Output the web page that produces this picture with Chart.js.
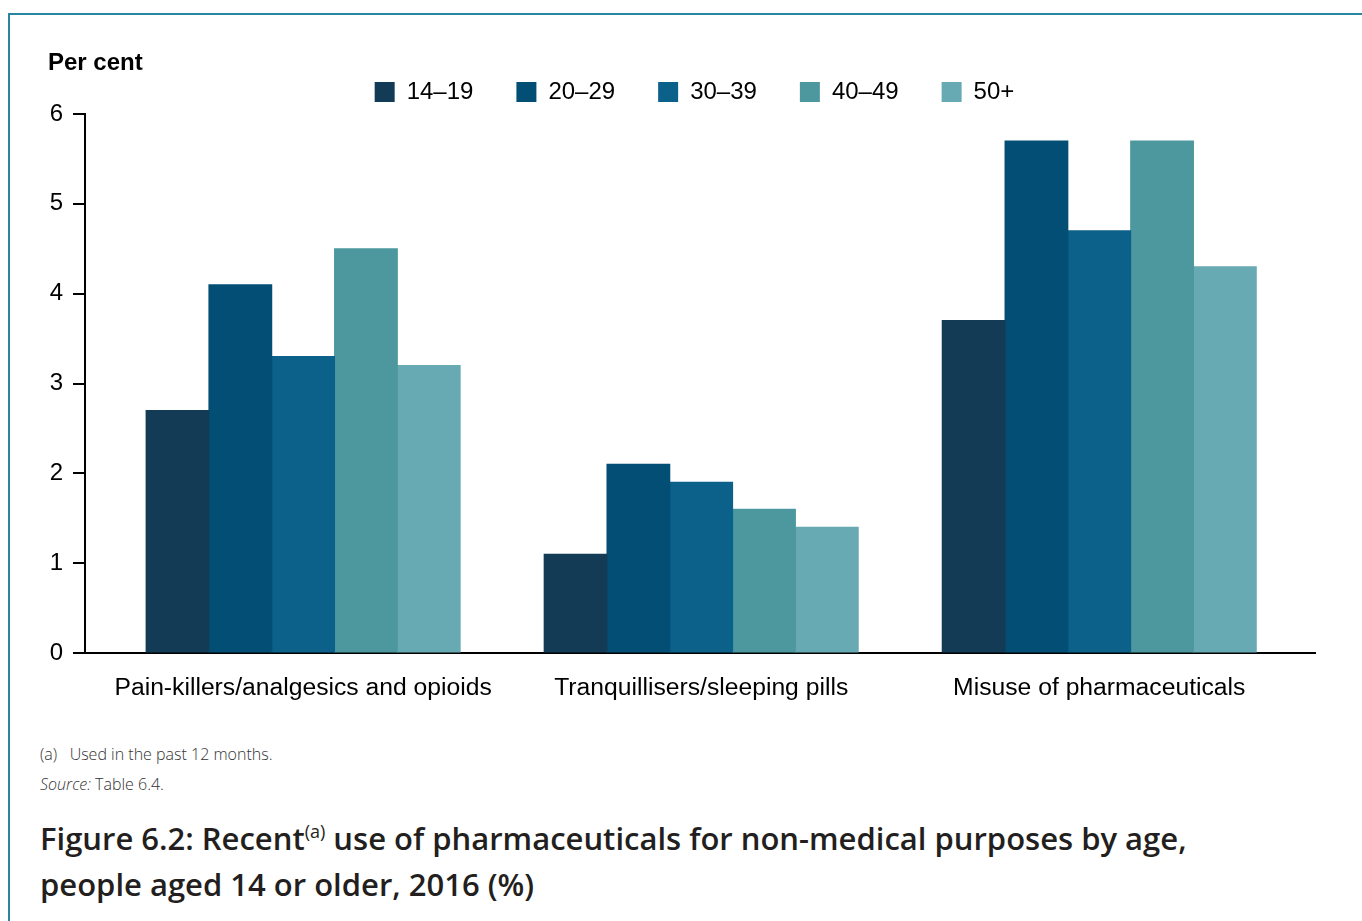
<!DOCTYPE html>
<html>
<head>
<meta charset="utf-8">
<script src="https://cdn.jsdelivr.net/npm/chart.js@4"></script>
<style>
  body { margin: 0; background: #fff; width: 1362px; height: 921px; overflow: hidden; position: relative; }
  #frame { position: absolute; left: 8px; top: 13px; width: 1400px; height: 1000px; border-top: 2px solid #2a86a0; border-left: 2px solid #2a86a0; }
  #wrap { position: absolute; left: 0; top: 0; width: 1362px; height: 720px; }
  #unit { position: absolute; left: 48px; top: 48px; font: bold 24px "Liberation Sans", Arial, sans-serif; color: #000; }
  .note { position: absolute; left: 40px; font: 300 16px "Open Sans", sans-serif; color: #333; }
  #title { position: absolute; left: 40px; top: 815px; font: 600 31px/46px "Open Sans", sans-serif; color: #231f20; }
  #title sup { font-size: 18px; vertical-align: 12px; line-height: 0; font-weight: 400; }
</style>
</head>
<body>
<div id="frame"></div>
<div id="wrap"><canvas id="myChart"></canvas></div>
<div id="unit">Per cent</div>
<div class="note" style="top:743px">(a)&nbsp;&nbsp; Used in the past 12 months.</div>
<div class="note" style="top:773px"><i>Source:</i> Table 6.4.</div>
<div id="title">Figure 6.2: Recent<sup>(a)</sup> use of pharmaceuticals for non-medical purposes by age,<br>people aged 14 or older, 2016 (%)</div>

<script>
const categories = ["Pain-killers/analgesics and opioids", "Tranquillisers/sleeping pills", "Misuse of pharmaceuticals"];
const ageGroups = ["14–19", "20–29", "30–39", "40–49", "50+"];
const age14to19 = [2.7, 1.1, 3.7];
const age20to29 = [4.1, 2.1, 5.7];
const age30to39 = [3.3, 1.9, 4.7];
const age40to49 = [4.5, 1.6, 5.7];
const age50plus = [3.2, 1.4, 4.3];
const yTicks = [0, 1, 2, 3, 4, 5, 6];

const seriesValues = [age14to19, age20to29, age30to39, age40to49, age50plus];
const barColors = ["#133b55", "#024e74", "#0b6189", "#4c989e", "#68aab4"];

const font = "'Liberation Sans', Arial, sans-serif";

const datasets = ageGroups.map((name, i) => ({
  label: name,
  data: seriesValues[i].map((v, j) => ({ x: j, y: v })),
  backgroundColor: barColors[i],
  borderWidth: 0,
  inflateAmount: 0.5,
  categoryPercentage: 0.789,
  barPercentage: 1,
}));

// legend sits a bit right of the canvas centre in the original
const legendShift = {
  id: "legendShift",
  beforeDraw: (chart) => {
    chart.legend.left = 74;
  },
};

new Chart("myChart", {
  type: "bar",
  data: { datasets: datasets },
  plugins: [legendShift],
  options: {
    responsive: true,
    maintainAspectRatio: false,
    animation: false,
    layout: { padding: { left: 0, right: 47, top: 37, bottom: 0 } },
    plugins: {
      tooltip: { enabled: false },
      legend: {
        position: "top",
        labels: {
          boxWidth: 20,
          boxHeight: 20,
          padding: 43,
          color: "#000",
          font: { family: font, size: 24 },
        },
      },
    },
    scales: {
      x: {
        type: "linear",
        min: -0.548,
        max: 2.542,
        offset: false,
        z: 1,
        afterBuildTicks: (scale) => {
          scale.ticks = categories.map((c, i) => ({ value: i }));
        },
        afterFit: (scale) => { scale.height = 67; },
        grid: { display: false, offset: false },
        border: { display: true, color: "#000", width: 2 },
        ticks: {
          autoSkip: false,
          maxRotation: 0,
          padding: 12,
          color: "#000",
          font: { family: font, size: 24.7 },
          callback: (v) => categories[v],
        },
      },
      y: {
        min: 0,
        max: 6,
        z: 1,
        afterBuildTicks: (scale) => {
          scale.ticks = yTicks.map((v) => ({ value: v }));
        },
        afterFit: (scale) => { scale.width = 85; },
        grid: { drawOnChartArea: false, drawTicks: true, tickLength: 12, color: "#000", lineWidth: 2 },
        border: { display: true, color: "#000", width: 2 },
        ticks: {
          padding: 10,
          color: "#000",
          font: { family: font, size: 24 },
        },
      },
    },
  },
});
</script>
</body>
</html>
